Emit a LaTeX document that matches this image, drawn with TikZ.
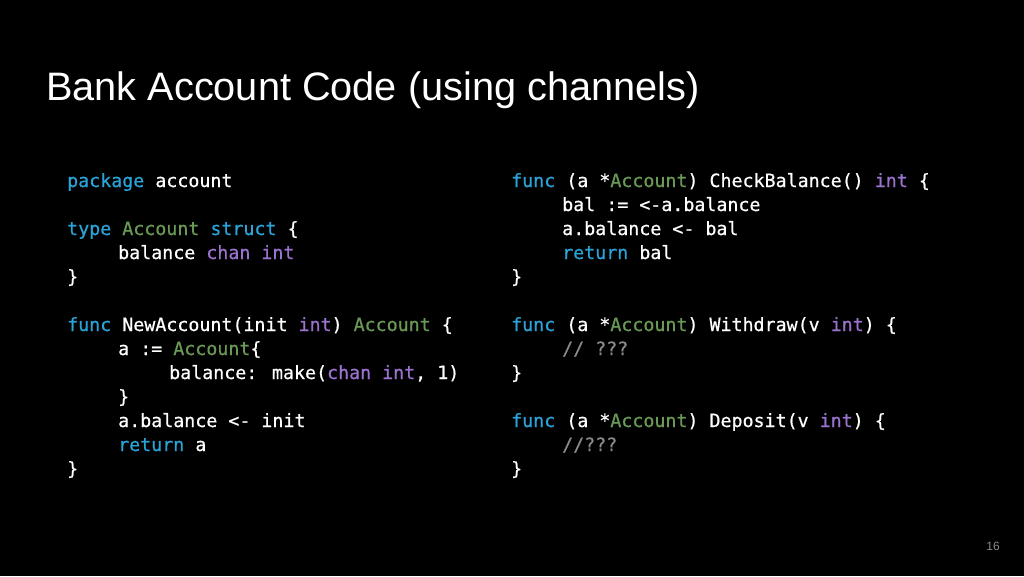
\documentclass[tikz,border=0pt]{standalone}
\usepackage{fontspec}
\setmainfont{Liberation Sans}
\newfontfamily\codefont[FakeBold=0.6]{DejaVu Sans Mono}
\definecolor{kwc}{HTML}{2AA3D8}
\definecolor{tyc}{HTML}{6A9955}
\definecolor{puc}{HTML}{9B72CF}
\definecolor{cmc}{HTML}{8A8A8A}
\newcommand{\kw}[1]{\textcolor{kwc}{#1}}
\newcommand{\ty}[1]{\textcolor{tyc}{#1}}
\newcommand{\pu}[1]{\textcolor{puc}{#1}}
\newcommand{\cmt}[1]{\textcolor{cmc}{#1}}
\begin{document}
\begin{tikzpicture}[x=1pt,y=-1pt,
  code/.style={anchor=base west,inner sep=0pt,text=white,font=\codefont\fontsize{18.3}{20}\selectfont}]
\fill[black] (0,0) rectangle (1024,576);
\useasboundingbox (0,0) rectangle (1024,576);
\node[anchor=base west,inner sep=0pt,text=white,font=\fontsize{39.7}{42}\selectfont] (title) at (46,100) {Bank Account Code (using channels)};
% left column
\node[code] (l1) at (67,187) {\kw{package} account};
\node[code] (l2) at (67,235) {\kw{type} \ty{Account} \kw{struct} \{};
\node[code] (l3) at (118,259) {balance \pu{chan} \pu{int}};
\node[code] (l4) at (67,283) {\}};
\node[code] (l5) at (67,331) {\kw{func} NewAccount(init \pu{int}) \ty{Account} \{};
\node[code] (l6) at (118,355) {a := \ty{Account}\{};
\node[code] (l7) at (169,379) {balance: make(\pu{chan} \pu{int}, 1)};
\node[code] (l8) at (118,403) {\}};
\node[code] (l9) at (118,427) {a.balance <- init};
\node[code] (l10) at (118,451) {\kw{return} a};
\node[code] (l11) at (67,475) {\}};
% right column
\node[code] (r1) at (511,187) {\kw{func} (a *\ty{Account}) CheckBalance() \pu{int} \{};
\node[code] (r2) at (562,211) {bal := <-a.balance};
\node[code] (r3) at (562,235) {a.balance <- bal};
\node[code] (r4) at (562,259) {\kw{return} bal};
\node[code] (r5) at (511,283) {\}};
\node[code] (r6) at (511,331) {\kw{func} (a *\ty{Account}) Withdraw(v \pu{int}) \{};
\node[code] (r7) at (562,355) {\cmt{// ???}};
\node[code] (r8) at (511,379) {\}};
\node[code] (r9) at (511,427) {\kw{func} (a *\ty{Account}) Deposit(v \pu{int}) \{};
\node[code] (r10) at (562,451) {\cmt{//???}};
\node[code] (r11) at (511,475) {\}};
\node[anchor=base east,inner sep=0pt,text=cmc,font=\fontsize{12}{14}\selectfont] (pg) at (1000,550) {16};
\end{tikzpicture}
\end{document}
